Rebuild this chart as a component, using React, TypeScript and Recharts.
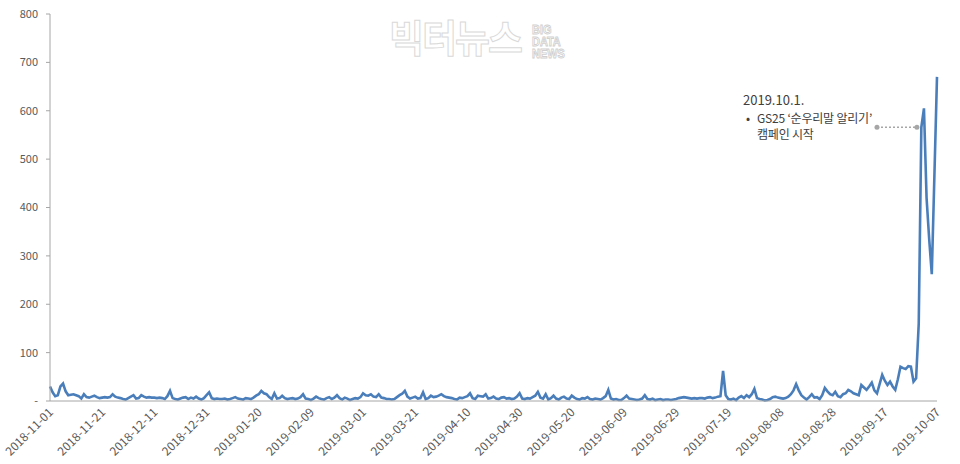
import { LineChart, Line, XAxis, YAxis, ReferenceLine, ReferenceDot } from "recharts";

// daily mention counts, 2018-11-01 .. 2019-10-07
const mentions = [
  30, 18, 10, 12, 30, 36, 20, 12, 13, 14,
  12, 10, 5, 14, 8, 7, 9, 11, 8, 6,
  7, 8, 7, 8, 14, 9, 7, 6, 4, 3,
  6, 9, 12, 5, 6, 12, 9, 7, 8, 7,
  7, 6, 7, 6, 4, 10, 21, 6, 4, 3,
  5, 7, 8, 4, 7, 5, 9, 5, 3, 6,
  12, 18, 6, 4, 5, 4, 4, 5, 3, 4,
  6, 8, 5, 4, 3, 6, 5, 4, 7, 11,
  14, 21, 16, 14, 8, 4, 16, 5, 6, 11,
  6, 4, 5, 6, 4, 5, 8, 14, 5, 4,
  2, 5, 9, 6, 4, 3, 6, 8, 4, 7,
  12, 6, 3, 7, 5, 2, 4, 6, 5, 8,
  16, 12, 11, 14, 9, 8, 14, 7, 6, 4,
  4, 3, 4, 8, 12, 15, 21, 9, 5, 7,
  9, 5, 6, 18, 4, 6, 11, 8, 9, 11,
  14, 10, 8, 7, 6, 4, 3, 7, 6, 8,
  10, 16, 6, 4, 11, 10, 9, 14, 5, 6,
  9, 5, 4, 7, 8, 5, 6, 4, 5, 9,
  16, 5, 4, 6, 5, 8, 11, 19, 7, 5,
  14, 3, 6, 11, 5, 3, 7, 9, 5, 4,
  11, 7, 4, 3, 6, 5, 8, 4, 3, 5,
  4, 3, 6, 10, 23, 5, 3, 4, 2, 2,
  6, 11, 5, 4, 3, 2, 3, 5, 12, 4,
  3, 5, 2, 3, 4, 2, 3, 3, 2, 3,
  4, 6, 7, 8, 7, 6, 5, 6, 5, 6,
  6, 5, 7, 8, 6, 7, 9, 10, 62, 12,
  4, 3, 5, 2, 7, 10, 6, 12, 8, 14,
  25, 6, 4, 3, 1, 2, 4, 8, 9, 7,
  6, 5, 6, 9, 14, 22, 35, 22, 12, 7,
  3, 8, 14, 7, 8, 4, 12, 27, 20, 14,
  12, 19, 10, 8, 14, 16, 23, 20, 16, 14,
  12, 33, 28, 23, 30, 38, 22, 16, 35, 54,
  42, 33, 40, 30, 23, 45, 71, 68, 66, 72,
  71, 40, 47, 160, 566, 605, 420, 335, 262, 465,
  670,
];

const startDate = Date.UTC(2018, 10, 1);
const dates = mentions.map((_, i) =>
  new Date(startDate + i * 86400000).toISOString().slice(0, 10)
);

const xTicks = [0, 20, 40, 60, 80, 100, 120, 140, 160, 180, 200, 220, 240, 260, 280, 300, 320, 340];
const yTicks = [0, 100, 200, 300, 400, 500, 600, 700, 800];

// annotation: campaign start on 2019-10-01
const campaignLevel = 566;
const calloutFrom = 317;
const calloutTo = 332.3;
const noteLines = ["2019.10.1.", "GS25 ‘순우리말 알리기’", "캠페인 시작"];
const watermarkSub = ["BIG", "DATA", "NEWS"];

const data = mentions.map((v, i) => ({ day: i, date: dates[i], mentions: v }));

const font = "'Noto Sans CJK KR', 'Open Sans', sans-serif";

function DateTick(props: any) {
  const { x, y, payload } = props;
  return (
    <text
      x={x + 4}
      y={y + 10}
      transform={`rotate(-45, ${x + 4}, ${y + 10})`}
      textAnchor="end"
      fontSize={12}
      fill="#595959"
      fontFamily={font}
    >
      {dates[payload.value]}
    </text>
  );
}

export default function App() {
  const line = { position: "absolute" as const, height: 15, lineHeight: "15px", whiteSpace: "nowrap" as const, color: "#404040" };
  const wm = { position: "absolute" as const, left: 532, height: 11.5, lineHeight: "11.5px", fontSize: 9.5, fontWeight: 700, color: "#fff", WebkitTextStroke: "0.7px #d0d0d0", fontFamily: "'Liberation Sans', sans-serif", transform: "scale(1.15, 1.25)", transformOrigin: "left center" };
  return (
    <div style={{ position: "absolute", left: 0, top: 0, width: 960, height: 464, background: "#fff", fontFamily: font }}>
      <div style={{ position: "absolute", left: 389, top: 14, height: 44, lineHeight: "44px", fontSize: 38, fontWeight: 700, color: "#fff", WebkitTextStroke: "1px #d9d9d9", letterSpacing: -2 }}>
        빅터뉴스
      </div>
      {watermarkSub.map((t, i) => (
        <div key={t} style={{ ...wm, top: 24 + i * 12 }}>{t}</div>
      ))}

      <LineChart width={960} height={464} data={data} margin={{ top: 14, right: 23, left: 0, bottom: 0 }}>
        <XAxis
          dataKey="day"
          type="number"
          domain={[0, 340]}
          ticks={xTicks}
          tick={<DateTick />}
          tickLine={false}
          tickSize={0}
          height={63}
          stroke="#a6a6a6"
          interval={0}
        />
        <YAxis
          domain={[0, 800]}
          ticks={yTicks}
          width={50}
          tickSize={4}
          tickMargin={8}
          stroke="#a6a6a6"
          tick={{ fontSize: 11, fill: "#595959", fontFamily: font }}
          tickFormatter={(v: number) => (v === 0 ? "-" : String(v))}
        />
        <ReferenceLine
          segment={[{ x: calloutFrom, y: campaignLevel }, { x: calloutTo, y: campaignLevel }]}
          stroke="#a6a6a6"
          strokeWidth={1.5}
          strokeDasharray="2 2"
        />
        <ReferenceDot x={calloutFrom} y={campaignLevel} r={2.5} fill="#a6a6a6" stroke="none" />
        <ReferenceDot x={calloutTo} y={campaignLevel} r={2.5} fill="#a6a6a6" stroke="none" />
        <Line
          type="linear"
          dataKey="mentions"
          stroke="#4a7ebb"
          strokeWidth={2.6}
          dot={false}
          isAnimationActive={false}
        />
      </LineChart>

      <div style={{ ...line, left: 743, top: 92, fontSize: 13 }}>{noteLines[0]}</div>
      <div style={{ ...line, left: 746, top: 109.5, fontSize: 12 }}>•</div>
      <div style={{ ...line, left: 757, top: 109.5, fontSize: 12, letterSpacing: -0.2 }}>{noteLines[1]}</div>
      <div style={{ ...line, left: 757, top: 125.5, fontSize: 12, letterSpacing: -0.2 }}>{noteLines[2]}</div>
    </div>
  );
}
